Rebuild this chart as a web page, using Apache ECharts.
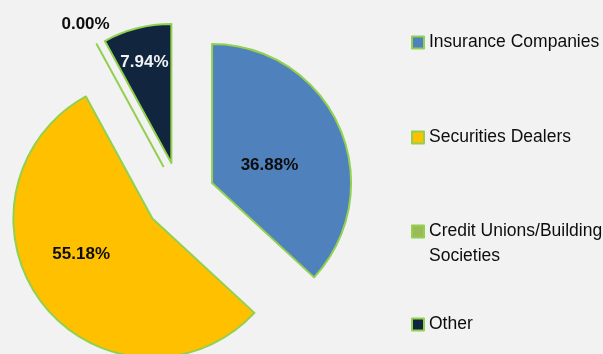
<!DOCTYPE html>
<html>
<head>
<meta charset="utf-8">
<script src="https://cdn.jsdelivr.net/npm/echarts@6/dist/echarts.min.js"></script>
<style>
  html, body { margin: 0; padding: 0; background: #F2F2F2; }
  #chart { width: 603px; height: 354px; }
</style>
</head>
<body>
<div id="chart"></div>
<script>
// Share of assets by institution type (percent)
const categories = ['Insurance Companies', 'Securities Dealers', 'Credit Unions/Building Societies', 'Other'];
const shares = [36.88, 55.18, 0.00, 7.94];

// Slice fills and label styling
const sliceColors = ['#4F81BD', '#FFC000', '#9BBB59', '#11253F'];
const labelColors = ['#0D0D0D', '#0D0D0D', '#0D0D0D', '#F2F2F2'];
// nudges each label away from the default mid-radius spot
const labelShift = [[-9, 11], [-14, -9], [-43, -78], [-9, -31]];
// vertical placement of each legend entry
const legendTops = [30, 125, 194, 312];

const FONT = '"Liberation Sans", Arial, sans-serif';
const BORDER = '#92D050';

const chart = echarts.init(document.getElementById('chart'), null, { renderer: 'canvas' });

// The long entry wraps after "/Building"; a leading blank line keeps the
// marker level with the first text line.
const wrapName = n => n.indexOf('/Building ') >= 0 ? '\n' + n.replace('/Building ', '/Building\n') : n;

const legends = categories.map((name, i) => ({
  data: [name],
  orient: 'vertical',
  left: 411,
  top: legendTops[i],
  padding: 0,
  itemWidth: 12,
  itemHeight: 12,
  itemGap: 0,
  selectedMode: false,
  icon: 'rect',
  itemStyle: { borderColor: BORDER, borderWidth: 2 },
  formatter: wrapName,
  textStyle: {
    fontFamily: FONT,
    fontSize: 17.5,
    lineHeight: 25,
    color: '#0D0D0D'
  }
}));

chart.setOption({
  backgroundColor: '#F2F2F2',
  animation: false,
  legend: legends,
  series: [{
    type: 'pie',
    center: [180, 197],
    radius: 139,
    startAngle: 90,
    clockwise: true,
    selectedMode: 'multiple',
    selectedOffset: 35,
    avoidLabelOverlap: false,
    minShowLabelAngle: -1,
    itemStyle: { borderColor: BORDER, borderWidth: 2 },
    label: {
      show: true,
      position: 'inside',
      fontFamily: FONT,
      fontWeight: 'bold',
      fontSize: 17,
      formatter: p => p.value.toFixed(2) + '%'
    },
    labelLine: { show: false },
    labelLayout: p => ({ dx: labelShift[p.dataIndex][0], dy: labelShift[p.dataIndex][1] }),
    emphasis: { scale: false },
    data: categories.map((name, i) => ({
      name: name,
      value: shares[i],
      selected: true,
      itemStyle: { color: sliceColors[i] },
      label: { color: labelColors[i] }
    }))
  }]
});
</script>
</body>
</html>
